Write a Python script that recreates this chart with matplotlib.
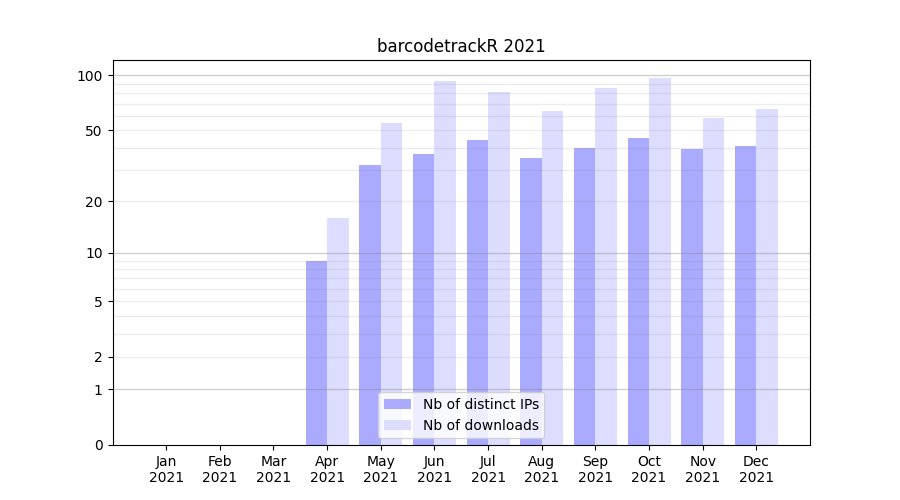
import matplotlib
matplotlib.use('Agg')
import matplotlib.pyplot as plt
import numpy as np

# ---- data ---- #
months = ['Jan', 'Feb', 'Mar', 'Apr', 'May', 'Jun', 'Jul', 'Aug', 'Sep', 'Oct', 'Nov', 'Dec']
year = '2021'
nb_ips = [0, 0, 0, 9, 32, 37, 44, 35, 40, 45, 39, 41]
nb_downloads = [0, 0, 0, 16, 55, 93, 81, 64, 85, 97, 58, 65]

ytick_vals = [0, 1, 2, 5, 10, 20, 50, 100]
major_grid = [1, 10, 100]
minor_grid = [2, 3, 4, 5, 6, 7, 8, 9, 20, 30, 40, 50, 60, 70, 80, 90]


def fwd(y):
    return np.log10(1 + np.clip(y, 0, None))


def inv(y):
    return 10 ** y - 1


fig, ax = plt.subplots(figsize=(9, 5), dpi=100)

x = np.arange(1, len(months) + 1)
w = 0.4
ax.bar(x - w / 2, nb_ips, width=w, color='#aaaaff', label='Nb of distinct IPs', zorder=1)
ax.bar(x + w / 2, nb_downloads, width=w, color='#ddddff', label='Nb of downloads', zorder=1)

ax.set_yscale('function', functions=(fwd, inv))
ax.set_ylim(0, max(nb_downloads) * 1.25)
ax.set_xlim(0, len(months) + 1)

for v in minor_grid:
    ax.axhline(v, color='#888888', alpha=0.15, linewidth=1, zorder=2)
for v in major_grid:
    ax.axhline(v, color='#888888', alpha=0.4, linewidth=1, zorder=2)

ax.set_yticks(ytick_vals)
ax.set_yticklabels([str(v) for v in ytick_vals])
ax.yaxis.set_minor_locator(matplotlib.ticker.NullLocator())
ax.set_xticks(x)
ax.set_xticklabels([f'{m}\n{year}' for m in months])

ax.set_title('barcodetrackR 2021')
ax.legend(loc='lower center')

plt.savefig('out.png', dpi=100)
